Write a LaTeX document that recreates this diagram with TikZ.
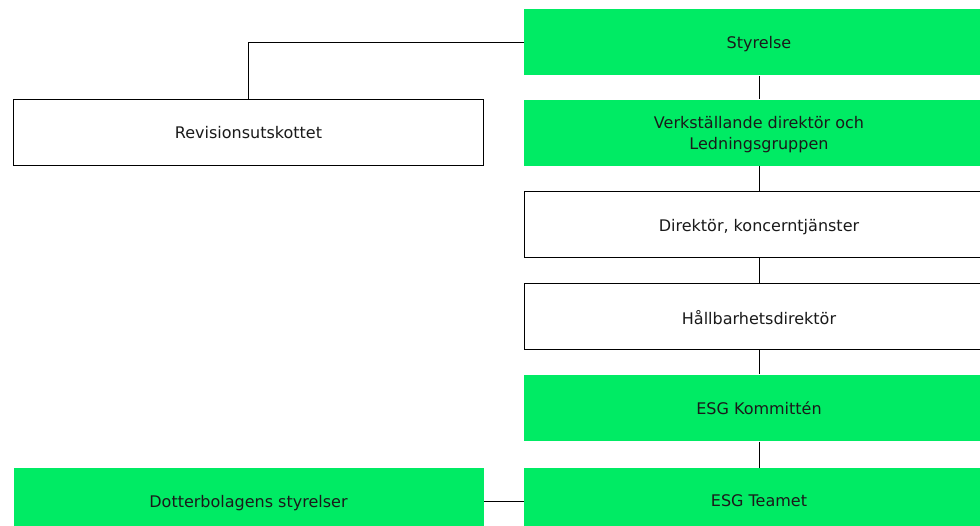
\documentclass[tikz,border=0pt]{standalone}
\usepackage{fontspec}
\setmainfont{DejaVu Sans}
\definecolor{esggreen}{HTML}{00EB64}
\definecolor{textgrey}{HTML}{1A1A1A}
\tikzset{
  orgbox/.style={minimum width=470pt,minimum height=66pt,inner sep=2mm,text depth=0pt,align=center,text=textgrey,font=\fontsize{16}{21}\selectfont},
  greenbox/.style={orgbox,fill=esggreen},
  whitebox/.style={orgbox,draw=black,line width=1pt,fill=white}
}
\begin{document}
\begin{tikzpicture}[x=1pt,y=-1pt,line width=1pt]
\useasboundingbox (0,0) rectangle (980,526);
\node[greenbox] (sty) at (759,42.5) {Styrelse};
\node[greenbox] (vd) at (759,133) {Verkställande direktör och\\Ledningsgruppen};
\node[whitebox] (dir) at (759,225) {Direktör, koncerntjänster};
\node[whitebox] (hall) at (759,317) {Hållbarhetsdirektör};
\node[greenbox] (komm) at (759,408) {ESG Kommittén};
\node[greenbox] (team) at (759,501) {ESG Teamet};
\node[whitebox] (rev) at (248.5,132.5) {Revisionsutskottet};
\node[greenbox] (dott) at (248.5,501) {Dotterbolagens styrelser};

\draw (sty.west) -| (rev.north);
\draw (sty) -- (vd);
\draw (vd) -- (dir);
\draw (dir) -- (hall);
\draw (hall) -- (komm);
\draw (komm) -- (team);
\draw (dott) -- (team);
\end{tikzpicture}
\end{document}
